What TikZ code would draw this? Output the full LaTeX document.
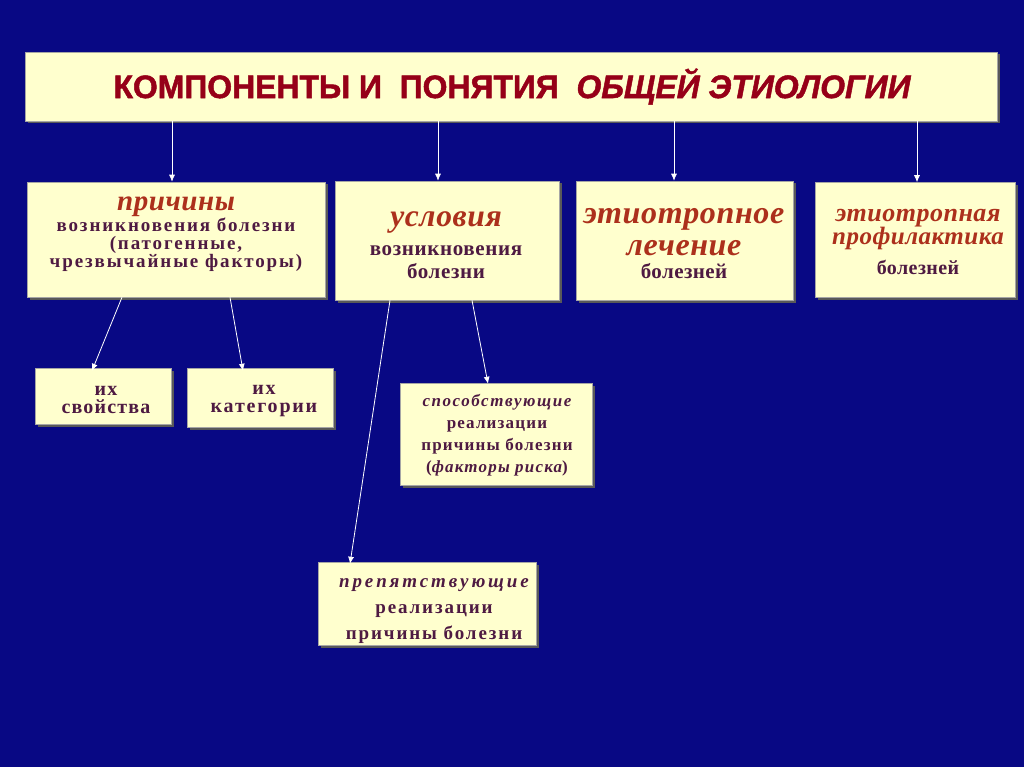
\documentclass[tikz,border=0pt]{standalone}
\usepackage{fontspec}
\setmainfont{Liberation Serif}
\newfontfamily\titlefont{Liberation Sans}
\usetikzlibrary{arrows.meta,shadows}
\definecolor{bgblue}{RGB}{8,8,132}
\definecolor{cream}{RGB}{255,255,206}
\definecolor{headred}{RGB}{172,48,28}
\definecolor{bodypurple}{RGB}{78,26,66}
\definecolor{titlered}{RGB}{150,0,24}
\newcommand{\hd}[2]{{\color{headred}\fontsize{#1}{#1}\selectfont\bfseries\itshape\addfontfeature{LetterSpace=2}#2}}
\newcommand{\ls}[1]{\addfontfeature{LetterSpace=#1}}
\begin{document}
\begin{tikzpicture}[x=1pt,y=-1pt,
  box/.style={fill=cream, draw=black!35, line width=0.5pt, inner sep=0pt,
    drop shadow={shadow xshift=2.5pt, shadow yshift=-2.5pt, fill=black!65, opacity=1}},
  txt/.style={inner sep=0pt, align=center, text=bodypurple},
  arr/.style={draw=white, line width=0.8pt, -{Latex[length=7pt,width=6pt]}}]
\fill[bgblue] (0,0) rectangle (1024,767);
\useasboundingbox (0,0) rectangle (1024,767);
% boxes
\node[box, minimum width=972pt, minimum height=69pt] (title) at (511,86.5) {};
\node[box, minimum width=298pt, minimum height=115pt] (prich) at (176,239.5) {};
\node[box, minimum width=224pt, minimum height=119pt] (uslov) at (447,240.5) {};
\node[box, minimum width=217pt, minimum height=119pt] (lech) at (684.5,240.5) {};
\node[box, minimum width=200pt, minimum height=115pt] (prof) at (915,240) {};
\node[box, minimum width=136pt, minimum height=56pt] (svoi) at (103,396) {};
\node[box, minimum width=146pt, minimum height=59pt] (kat) at (260.5,397.5) {};
\node[box, minimum width=192pt, minimum height=102pt] (spos) at (496,434) {};
\node[box, minimum width=218pt, minimum height=83pt] (prep) at (427,603.5) {};
% texts
\node[txt] (titleT) at (512,86.5)
  {\scalebox{1.1}[1.12]{\color{titlered}\titlefont\bfseries\fontsize{29}{32}\selectfont\addfontfeature{FakeBold=1.5}КОМПОНЕНТЫ И\ \ ПОНЯТИЯ\ \ \itshape ОБЩЕЙ ЭТИОЛОГИИ}};
\node[txt, font=\bfseries\fontsize{19}{18}\selectfont\ls{10}] (prichT) at (176,234)
  {\hd{29}{причины}\\ возникновения болезни\\ (патогенные,\\ чрезвычайные факторы)};
\node[txt, font=\bfseries\fontsize{21}{23}\selectfont\ls{3}] (uslovT) at (446,245)
  {\hd{31.5}{условия}\\[6pt] возникновения\\ болезни};
\node[txt, font=\bfseries\fontsize{21}{23}\selectfont\ls{2}] (lechT) at (684,244)
  {\hd{32}{этиотропное}\\[9pt] \hd{32}{лечение}\\ болезней};
\node[txt, font=\bfseries\fontsize{20}{22}\selectfont\ls{2}] (profT) at (918,242)
  {\hd{26}{этиотропная}\\ \hd{25}{профилактика}\\[8pt] болезней};
\node[txt, font=\bfseries\fontsize{20}{18}\selectfont\ls{6}] (svoiT) at (106,400)
  {их\\ свойства};
\node[txt, font=\bfseries\fontsize{20}{18}\selectfont\ls{9}] (katT) at (264,401)
  {их\\ категории};
\node[txt, font=\bfseries\fontsize{17}{22}\selectfont\ls{7}] (sposT) at (497,435)
  {{\itshape\ls{9}способствующие}\\ реализации\\ причины болезни\\ ({\itshape факторы риска})};
\node[txt, font=\bfseries\fontsize{19}{26}\selectfont\ls{10}] (prepT) at (434,611)
  {{\itshape\ls{15}препятствующие}\\ реализации\\ причины болезни};
% arrows
\draw[arr] ([xshift=-339pt]title.south) -- ([xshift=-4pt]prich.north);
\draw[arr] ([xshift=-73pt]title.south) -- ([xshift=-9pt]uslov.north);
\draw[arr] ([xshift=163pt]title.south) -- ([xshift=-10.5pt]lech.north);
\draw[arr] ([xshift=406pt]title.south) -- ([xshift=2pt]prof.north);
\draw[arr] ([xshift=-54pt]prich.south) -- ([xshift=-11pt,yshift=-3pt]svoi.north);
\draw[arr] ([xshift=54pt]prich.south) -- ([xshift=-17.5pt,yshift=-3pt]kat.north);
\draw[arr] ([xshift=-57pt]uslov.south) -- ([xshift=-77pt,yshift=-2pt]prep.north);
\draw[arr] ([xshift=25pt]uslov.south) -- ([xshift=-8pt,yshift=-1pt]spos.north);
\end{tikzpicture}
\end{document}
